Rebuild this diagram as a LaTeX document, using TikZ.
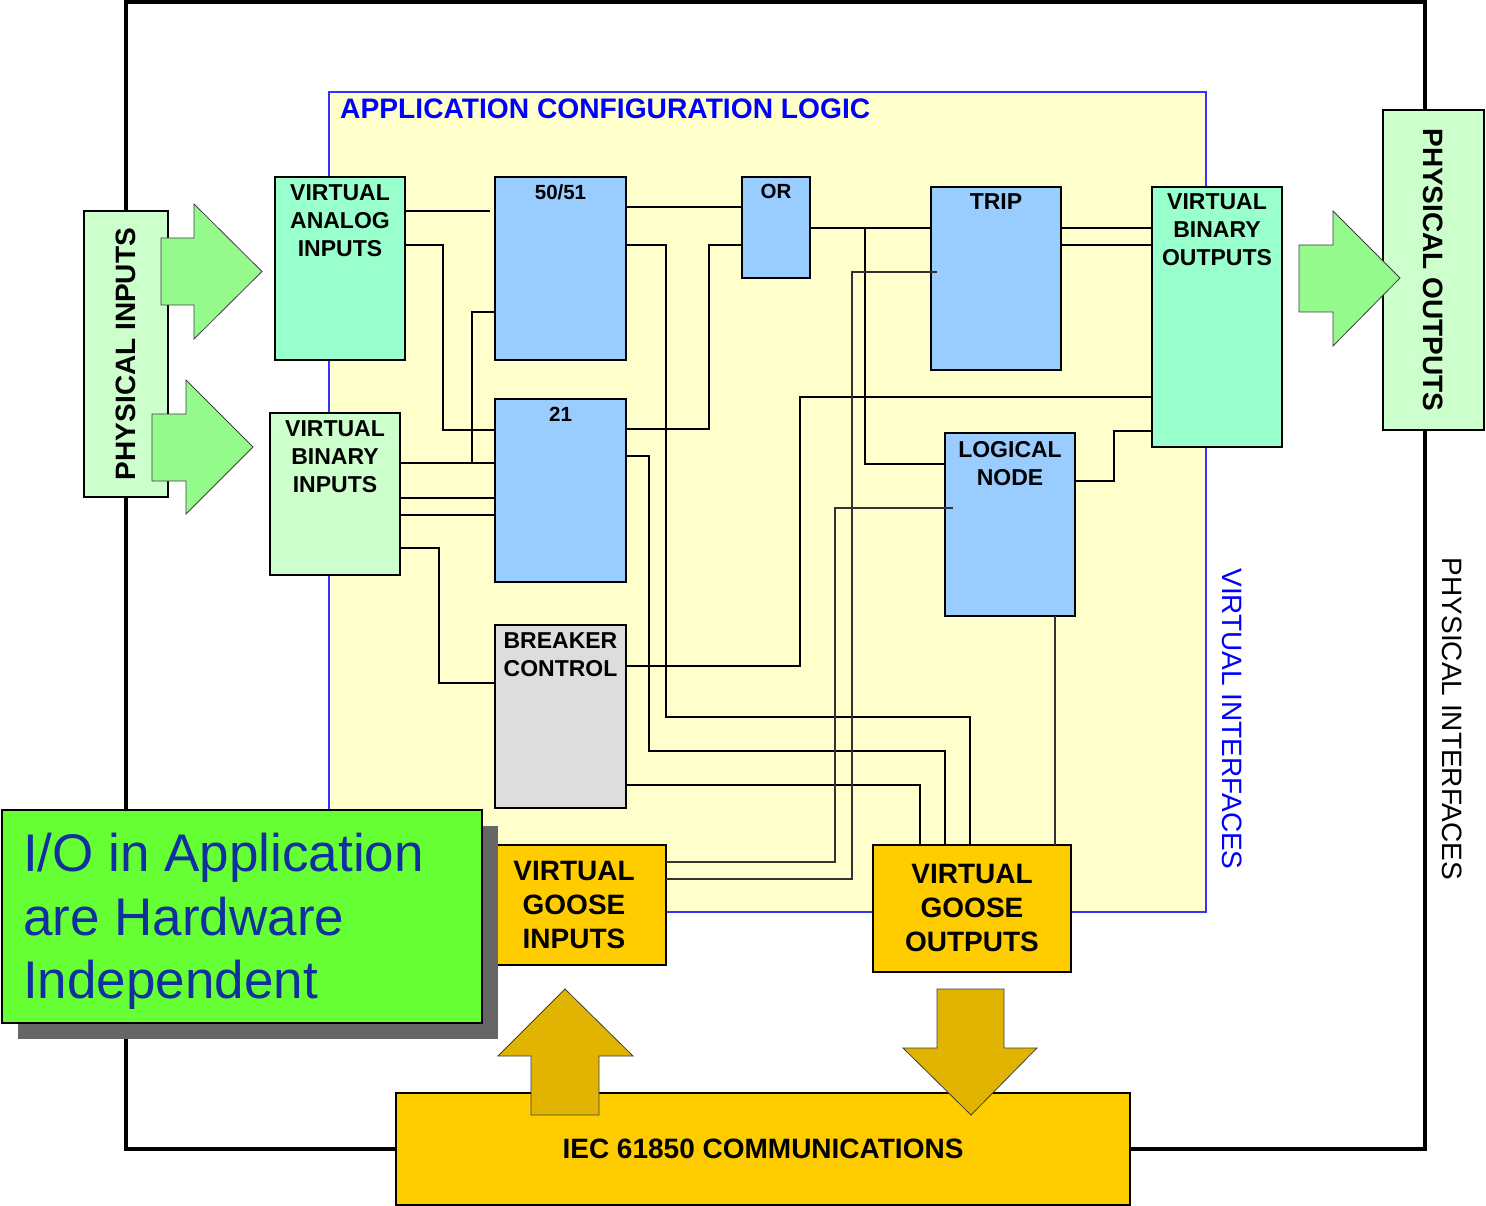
\documentclass[tikz,border=0pt]{standalone}
\usepackage{fontspec}
\setmainfont{Liberation Sans}

\definecolor{logicbg}{HTML}{FFFFCC}
\definecolor{tealbox}{HTML}{99FFCC}
\definecolor{mintbox}{HTML}{CCFFCC}
\definecolor{funcbox}{HTML}{99CCFF}
\definecolor{greybox}{HTML}{DDDDDD}
\definecolor{goosebox}{HTML}{FFCC00}
\definecolor{goldarrow}{HTML}{E0B400}
\definecolor{greenarrow}{HTML}{94FA8C}
\definecolor{notegreen}{HTML}{66FF33}
\definecolor{noteshadow}{HTML}{666666}
\definecolor{notetext}{HTML}{1030A0}

\tikzset{
  blk/.style={draw=black, line width=2.8pt, inner sep=0pt, outer sep=0pt, anchor=north west},
  lbl/.style={inner sep=0pt, outer sep=0pt, align=center, anchor=north,
              font=\bfseries\fontsize{23}{28}\selectfont},
  smalllbl/.style={lbl, font=\bfseries\fontsize{20.5}{25}\selectfont},
  biglbl/.style={lbl, font=\bfseries\fontsize{28}{34}\selectfont},
  wire/.style={line width=1.6pt, black},
  fwire/.style={line width=1.3pt, black!80},
  garrow/.style={draw=black!75, line width=0.8pt, fill=greenarrow},
  yarrow/.style={draw=black!75, line width=0.8pt, fill=goldarrow},
}

\begin{document}
\begin{tikzpicture}[x=1pt, y=-1pt]
  \fill[white] (0,0) rectangle (1486,1206);
  \useasboundingbox (0,0) rectangle (1486,1206);

  % device outline (physical interfaces)
  \draw[line width=4.5pt, black] (126,2) rectangle (1425,1149);

  % application configuration logic area
  \draw[fill=logicbg, draw=blue!80, line width=1.1pt] (329,92) rectangle (1206,912);
  \node[anchor=north west, inner sep=0pt, text=blue, font=\bfseries\fontsize{28.2}{34}\selectfont]
    (title) at (340,99) {APPLICATION CONFIGURATION LOGIC};

  % side captions
  \node[rotate=-90, inner sep=0pt, text=blue, font=\fontsize{28}{34}\selectfont]
    (vifc) at (1232,719) {VIRTUAL INTERFACES};
  \node[rotate=-90, inner sep=0pt, text=black, font=\fontsize{28}{34}\selectfont]
    (pifc) at (1452,719) {PHYSICAL INTERFACES};

  % physical I/O boxes
  \node[blk, fill=mintbox, minimum width=84pt, minimum height=286pt] (physin) at (84,211) {};
  \node[blk, fill=mintbox, minimum width=101pt, minimum height=320pt] (physout) at (1383,110) {};

  % virtual I/O and function blocks
  \node[blk, fill=tealbox, minimum width=130pt, minimum height=183pt] (vai) at (275,177) {};
  \node[blk, fill=mintbox, minimum width=130pt, minimum height=162pt] (vbi) at (270,413) {};
  \node[blk, fill=funcbox, minimum width=131pt, minimum height=183pt] (b5051) at (495,177) {};
  \node[blk, fill=funcbox, minimum width=131pt, minimum height=183pt] (b21) at (495,399) {};
  \node[blk, fill=greybox, minimum width=131pt, minimum height=183pt] (brk) at (495,625) {};
  \node[blk, fill=funcbox, minimum width=68pt, minimum height=101pt] (bor) at (742,177) {};
  \node[blk, fill=funcbox, minimum width=130pt, minimum height=183pt] (trip) at (931,187) {};
  \node[blk, fill=tealbox, minimum width=130pt, minimum height=260pt] (vbo) at (1152,187) {};
  \node[blk, fill=funcbox, minimum width=130pt, minimum height=183pt] (ln) at (945,433) {};
  \node[blk, fill=goosebox, minimum width=169pt, minimum height=120pt] (gin) at (497,845) {};
  \node[blk, fill=goosebox, minimum width=198pt, minimum height=127pt] (gout) at (873,845) {};
  \node[blk, fill=goosebox, minimum width=734pt, minimum height=112pt] (iec) at (396,1093) {};

  % internal signal points
  \coordinate (tripin) at (937,272);
  \coordinate (lnin) at (953,508);

  % signal wiring
  \draw[wire, shorten >=5pt] (vai.east |- 0,211) -- (b5051.west |- 0,211);
  \draw[wire] (vai.east |- 0,245) -| (443,430) -- (b21.west |- 0,430);
  \draw[wire] (b5051.west |- 0,312) -| (472,463);
  \draw[wire] (vbi.east |- 0,463) -- (b21.west |- 0,463);
  \draw[wire] (vbi.east |- 0,498) -- (b21.west |- 0,498);
  \draw[wire] (vbi.east |- 0,515) -- (b21.west |- 0,515);
  \draw[wire] (vbi.east |- 0,548) -| (439,683) -- (brk.west |- 0,683);
  \draw[wire] (b5051.east |- 0,207) -- (bor.west |- 0,207);
  \draw[wire] (b5051.east |- 0,245) -| (666,717) -| (gout.north -| 970,0);
  \draw[wire] (b21.east |- 0,429) -| (709,245) -- (bor.west |- 0,245);
  \draw[wire] (b21.east |- 0,456) -| (649,751) -| (gout.north -| 945,0);
  \draw[wire] (brk.east |- 0,666) -| (800,397) -- (vbo.west |- 0,397);
  \draw[wire] (brk.east |- 0,785) -| (gout.north -| 920,0);
  \draw[wire] (bor.east |- 0,228) -- (trip.west |- 0,228);
  \draw[wire] (865,228) |- (ln.west |- 0,464);
  \draw[wire] (trip.east |- 0,228) -- (vbo.west |- 0,228);
  \draw[wire] (trip.east |- 0,245) -- (vbo.west |- 0,245);
  \draw[wire] (ln.east |- 0,481) -| (1114,431) -- (vbo.west |- 0,431);
  \draw[fwire] (tripin) -| (852,879) -- (gin.east |- 0,879);
  \draw[fwire] (lnin) -| (835,862) -- (gin.east |- 0,862);
  \draw[fwire] (ln.south -| 1055,0) -- (gout.north -| 1055,0);

  % block arrows
  \draw[garrow] (161,238) -- (194,238) -- (194,204) -- (262,271.5) -- (194,339) -- (194,305) -- (161,305) -- cycle;
  \draw[garrow] (152,414) -- (186,414) -- (186,380) -- (253,447) -- (186,514) -- (186,481) -- (152,481) -- cycle;
  \draw[garrow] (1299,245) -- (1333,245) -- (1333,211) -- (1400,278) -- (1333,346) -- (1333,312) -- (1299,312) -- cycle;
  \draw[yarrow] (531,1115) -- (531,1056) -- (498,1056) -- (565,989) -- (633,1056) -- (599,1056) -- (599,1115) -- cycle;
  \draw[yarrow] (937,989) -- (1004,989) -- (1004,1048) -- (1037,1048) -- (971,1115) -- (903,1048) -- (937,1048) -- cycle;

  % block labels
  \node[biglbl, anchor=center, rotate=90] (physint) at (physin.center) {PHYSICAL INPUTS};
  \node[biglbl, anchor=center, rotate=-90] (physoutt) at (physout.center) {PHYSICAL OUTPUTS};
  \node[lbl] (vait) at ([yshift=-8pt]vai.north) {VIRTUAL\\ANALOG\\INPUTS};
  \node[lbl] (vbit) at ([yshift=-8pt]vbi.north) {VIRTUAL\\BINARY\\INPUTS};
  \node[smalllbl] (b5051t) at ([yshift=-7.5pt]b5051.north) {50/51};
  \node[smalllbl] (b21t) at ([yshift=-8.5pt]b21.north) {21};
  \node[lbl] (brkt) at ([yshift=-8pt]brk.north) {BREAKER\\CONTROL};
  \node[smalllbl] (bort) at ([yshift=-7.5pt]bor.north) {OR};
  \node[lbl] (tript) at ([yshift=-7pt]trip.north) {TRIP};
  \node[lbl] (vbot) at ([yshift=-7pt]vbo.north) {VIRTUAL\\BINARY\\OUTPUTS};
  \node[lbl] (lnt) at ([yshift=-8pt]ln.north) {LOGICAL\\NODE};
  \node[biglbl] (gint) at ([xshift=-7.5pt,yshift=-16pt]gin.north) {VIRTUAL\\GOOSE\\INPUTS};
  \node[biglbl] (goutt) at ([yshift=-19pt]gout.north) {VIRTUAL\\GOOSE\\OUTPUTS};
  \node[biglbl, anchor=center] (iect) at (iec.center) {IEC 61850 COMMUNICATIONS};

  % call-out note with drop shadow
  \fill[noteshadow] (18,826) rectangle (498,1039);
  \node[blk, fill=notegreen, minimum width=480pt, minimum height=213pt] (note) at (2,810) {};
  \node[anchor=north west, inner sep=0pt, align=left, text=notetext,
        font=\fontsize{53}{63.5}\selectfont] (notet) at (23,833)
        {I/O in Application\\are Hardware\\Independent};
\end{tikzpicture}
\end{document}
